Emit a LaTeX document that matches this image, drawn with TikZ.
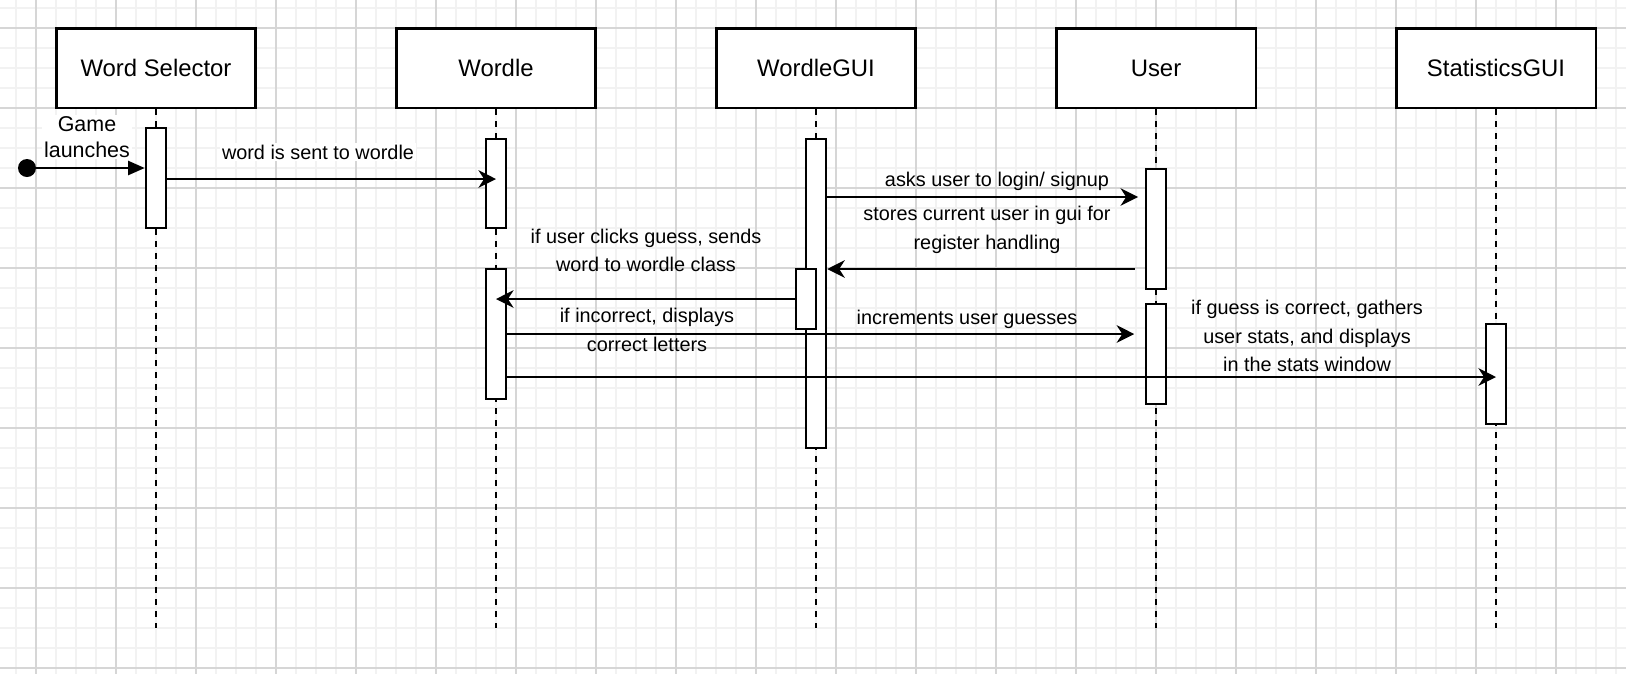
\documentclass[tikz,border=0pt]{standalone}
\usepackage{fontspec}
\setmainfont{Liberation Sans}
\usetikzlibrary{arrows.meta}
\definecolor{gridmajor}{HTML}{D6D6D6}
\definecolor{gridminor}{HTML}{F2F2F2}

\begin{document}
\begin{tikzpicture}[x=0.02cm, y=-0.02cm,
  lifehead/.style={draw, line width=1.7pt, fill=white, minimum width=4cm, minimum height=1.6cm, font=\fontsize{13.6pt}{16pt}\selectfont},
  actbar/.style={draw, line width=1.4pt, fill=white, minimum width=0.4cm, inner sep=0pt},
  lifeline/.style={line width=1.3pt, dash pattern=on 3.4pt off 3.4pt},
  msg/.style={line width=1.3pt, -{Stealth[length=10pt, width=10pt, inset=3.2pt]}},
  lbl/.style={align=center, inner sep=1pt, font=\fontsize{11.3pt}{16.2pt}\selectfont}]
  \useasboundingbox (0,0) rectangle (1626,674);
  % background grid
  \foreach \x in {16,36,...,1616} \draw[gridminor, line width=0.8pt] (\x,0) -- (\x,674);
  \foreach \y in {8,28,...,668} \draw[gridminor, line width=0.8pt] (0,\y) -- (1626,\y);
  \foreach \x in {36,116,...,1556} \draw[gridmajor, line width=0.6pt] (\x,0) -- (\x,674);
  \foreach \y in {28,108,...,668} \draw[gridmajor, line width=0.6pt] (0,\y) -- (1626,\y);

  % lifelines
  \node[lifehead] (selector) at (156,68) {Word Selector};
  \node[lifehead] (wordle) at (496,68) {Wordle};
  \node[lifehead] (gui) at (816,68) {WordleGUI};
  \node[lifehead] (user) at (1156,68) {User};
  \node[lifehead] (stats) at (1496,68) {StatisticsGUI};
  \foreach \n in {selector, wordle, gui, user, stats}
    \draw[lifeline] (\n.south) -- (\n.south |- 0,628);

  % activations
  \node[actbar, minimum height=2cm] (selector-bar) at (156,178) {};
  \node[actbar, minimum height=1.78cm] (wordle-bar1) at (496,183.5) {};
  \node[actbar, minimum height=2.6cm] (wordle-bar2) at (496,334) {};
  \node[actbar, minimum height=6.18cm] (gui-bar) at (816,293.5) {};
  \node[actbar, minimum height=1.2cm] (gui-bar2) at (806,299) {};
  \node[actbar, minimum height=2.4cm] (user-bar1) at (1156,229) {};
  \node[actbar, minimum height=2cm] (user-bar2) at (1156,354) {};
  \node[actbar, minimum height=2cm] (stats-bar) at (1496,374) {};

  % messages
  \node[circle, fill=black, minimum size=0.36cm, inner sep=0pt] (start) at (27,168) {};
  \coordinate (m2) at (0,179);
  \coordinate (m3) at (0,197);
  \coordinate (m4) at (0,269);
  \coordinate (m5) at (0,299);
  \coordinate (m6) at (0,334);
  \coordinate (m7) at (0,377);
  \draw[line width=1.3pt, -{Triangle[length=9.5pt, width=8pt]}] (start) -- (start -| selector-bar.west);
  \draw[msg] (selector-bar.east |- m2) -- (wordle-bar1 |- m2);
  \draw[msg, shorten >=3.8pt] (gui-bar.east |- m3) -- (user-bar1.west |- m3);
  \draw[msg, shorten <=5.7pt] (user-bar1.west |- m4) -- (gui-bar.east |- m4);
  \draw[msg] (gui-bar2.west |- m5) -- (wordle-bar2 |- m5);
  \draw[msg, shorten >=6pt] (wordle-bar2.east |- m6) -- (user-bar2.west |- m6);
  \draw[msg] (wordle-bar2.east |- m7) -- (stats-bar |- m7);

  % labels
  \node[lbl, fill=white, font=\fontsize{12.2pt}{14.8pt}\selectfont] (launch) at (87,137) {Game\\launches};
  \node[lbl, fill=white] (sent) at (318,152) {word is sent to wordle};
  \node[lbl] (asks) at (997,181) {asks user to login/ signup};
  \node[lbl] (stores) at (987,230) {stores current user in gui for\\register handling};
  \node[lbl] (clicks) at (646,250.5) {if user clicks guess, sends\\word to wordle class};
  \node[lbl] (incorrect) at (647,330) {if incorrect, displays\\correct letters};
  \node[lbl] (increments) at (967,319) {increments user guesses};
  \node[lbl] (gathers) at (1307,336) {if guess is correct, gathers\\user stats, and displays\\in the stats window};
\end{tikzpicture}
\end{document}
